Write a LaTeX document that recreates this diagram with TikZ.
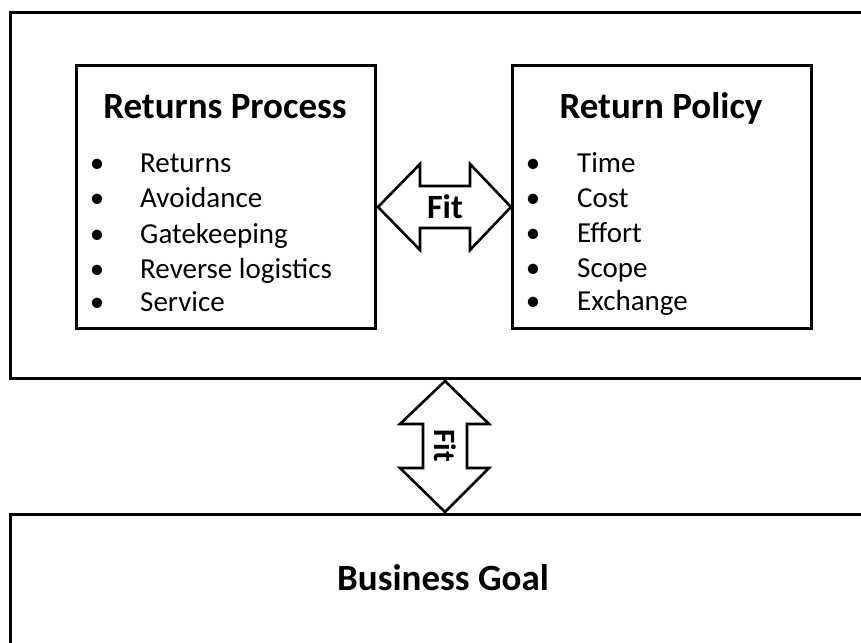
\documentclass[tikz,border=0pt]{standalone}
\usepackage{fontspec}
\setmainfont{Carlito}
\begin{document}
\begin{tikzpicture}[x=1pt,y=-1pt,
  boxline/.style={draw=black,line width=3pt},
  arrowline/.style={draw=black,fill=white,line width=2.6pt,line join=miter},
  titletext/.style={inner sep=0pt,anchor=base,font=\fontsize{37}{44}\selectfont\bfseries},
  itemtext/.style={inner sep=0pt,anchor=base west,font=\fontsize{29}{35}\selectfont},
  bullettext/.style={inner sep=0pt,anchor=base,font=\fontsize{29}{35}\selectfont},
  fittext/.style={inner sep=0pt,font=\fontsize{34}{40}\selectfont\bfseries}]
\useasboundingbox (0,0) rectangle (861,642);
% outer boxes
\draw[boxline] (10,13) rectangle (880,378);
\draw[boxline] (10,514) rectangle (880,680);
% inner boxes
\draw[boxline] (76,65) rectangle (375,328);
\draw[boxline] (512,65) rectangle (811,328);
% horizontal fit arrow
\draw[arrowline] (378,207) -- (420,164) -- (420,186) -- (470,186) -- (470,164)
  -- (511,207) -- (470,250) -- (470,228) -- (420,228) -- (420,250) -- cycle;
\node[fittext] (fith) at (445,207) {Fit};
% vertical fit arrow
\draw[arrowline] (445,381) -- (489,424) -- (467,424) -- (467,468) -- (489,468)
  -- (445,512) -- (400,468) -- (423,468) -- (423,424) -- (400,424) -- cycle;
\node[fittext,font=\fontsize{31}{37}\selectfont\bfseries,rotate=-90] (fitv) at (445,446) {Fit};
% titles
\node[titletext] (tproc) at (225,118) {Returns Process};
\node[titletext] (tpol) at (661,118) {Return Policy};
\node[titletext] (tgoal) at (443,590) {Business Goal};
% left list
\foreach \t/\yy/\n in {Returns/172/a,Avoidance/207/b,Gatekeeping/243/c,Reverse logistics/278/d,Service/311/e}{
  \node[bullettext] (lb\n) at (97,\yy) {•};
  \node[itemtext] (li\n) at (140,\yy) {\t};
}
% right list
\foreach \t/\yy/\n in {Time/172/a,Cost/207/b,Effort/242/c,Scope/277/d,Exchange/310/e}{
  \node[bullettext] (rb\n) at (533,\yy) {•};
  \node[itemtext] (ri\n) at (577,\yy) {\t};
}
\end{tikzpicture}
\end{document}
